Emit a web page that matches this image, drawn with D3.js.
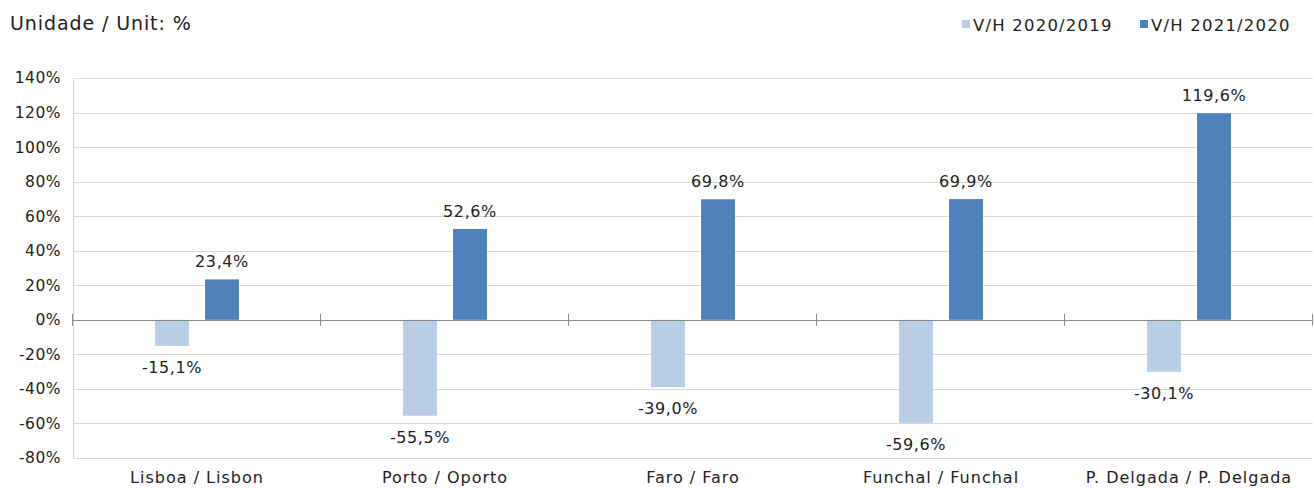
<!DOCTYPE html>
<html><head><meta charset="utf-8">
<script src="https://cdn.jsdelivr.net/npm/d3@7"></script>
<style>body{margin:0;background:#fff}svg{display:block}text{font-family:"DejaVu Sans",sans-serif;fill:#222}</style>
</head><body><svg id="c" width="1314" height="488"></svg>
<script>
const categories = ["Lisboa / Lisbon","Porto / Oporto","Faro / Faro","Funchal / Funchal","P. Delgada / P. Delgada"];
const seriesNames = ["V/H 2020/2019","V/H 2021/2020"];
const values2020 = [-15.1,-55.5,-39.0,-59.6,-30.1];
const values2021 = [23.4,52.6,69.8,69.9,119.6];
const yTicks = [-80,-60,-40,-20,0,20,40,60,80,100,120,140];
const colors = ["#B9CDE5","#4F81BD"];

const svg = d3.select("#c");
const m = {l:73, r:1313, t:78, b:458};
const x = d3.scaleBand().domain(categories).range([m.l,m.r]);
const y = d3.scaleLinear().domain([-80,140]).range([m.b,m.t]);
const fmt = v => v.toFixed(1).replace(".",",")+"%";

// gridlines
svg.append("g").selectAll("line").data(yTicks).join("line")
  .attr("x1",m.l).attr("x2",m.r).attr("y1",d=>Math.round(y(d))+0.5).attr("y2",d=>Math.round(y(d))+0.5)
  .attr("stroke","#d9d9d9").attr("stroke-width",1);
// y axis line
svg.append("line").attr("x1",m.l+0.5).attr("x2",m.l+0.5).attr("y1",m.t).attr("y2",m.b).attr("stroke","#c7d3e6");
// y tick labels
const ya = d3.axisLeft(y).tickValues(yTicks).tickFormat(d=>d+"%").tickSize(0).tickPadding(12);
const yg = svg.append("g").attr("transform",`translate(${m.l},0)`).call(ya);
yg.select(".domain").remove();
yg.selectAll("text").style("font-size","15.5px").style("letter-spacing","0.5px").attr("fill","#222").attr("font-family","DejaVu Sans");

const sub = d3.scaleBand().domain([0,1]).range([0,x.bandwidth()]).paddingInner(0.32).paddingOuter(1.64);
const series = [values2020, values2021];
series.forEach((vals,si)=>{
  const g = svg.append("g");
  g.selectAll("rect").data(vals).join("rect")
    .attr("x",(d,i)=>x(categories[i])+sub(si))
    .attr("width",sub.bandwidth())
    .attr("y",d=>y(Math.max(0,d)))
    .attr("height",d=>Math.abs(y(d)-y(0)))
    .attr("fill",colors[si]);
  g.selectAll("text").data(vals).join("text")
    .attr("x",(d,i)=>x(categories[i])+sub(si)+sub.bandwidth()/2)
    .attr("y",d=>d>=0?y(d)-12:y(d)+27)
    .attr("text-anchor","middle").style("font-size","16px").style("letter-spacing","0.6px")
    .text(fmt);
});

// zero axis with ticks
svg.append("line").attr("x1",m.l).attr("x2",m.r).attr("y1",Math.round(y(0))+0.5).attr("y2",Math.round(y(0))+0.5).attr("stroke","#8c8c8c");
const bounds = categories.map(c=>x(c)).concat([m.r]);
svg.append("g").selectAll("line").data(bounds).join("line")
  .attr("x1",d=>Math.round(d)-0.5).attr("x2",d=>Math.round(d)-0.5)
  .attr("y1",y(0)-6).attr("y2",y(0)+6).attr("stroke","#8c8c8c");
// category labels
const xg = svg.append("g").attr("transform",`translate(0,${m.b})`).call(d3.axisBottom(x).tickSize(0).tickPadding(14));
xg.select(".domain").remove();
xg.selectAll("text").style("font-size","16px").style("letter-spacing","1px").attr("fill","#222").attr("font-family","DejaVu Sans");

// title
svg.append("text").attr("x",10).attr("y",30).style("font-size","19px").style("letter-spacing","0.9px").text("Unidade / Unit: %");
// legend
const leg = [{x:962,n:seriesNames[0],c:colors[0]},{x:1140,n:seriesNames[1],c:colors[1]}];
leg.forEach(l=>{
  svg.append("rect").attr("x",l.x).attr("y",20).attr("width",8).attr("height",8).attr("fill",l.c);
  svg.append("text").attr("x",l.x+11).attr("y",31).style("font-size","16.5px").style("letter-spacing","1.2px").text(l.n);
});
</script></body></html>
